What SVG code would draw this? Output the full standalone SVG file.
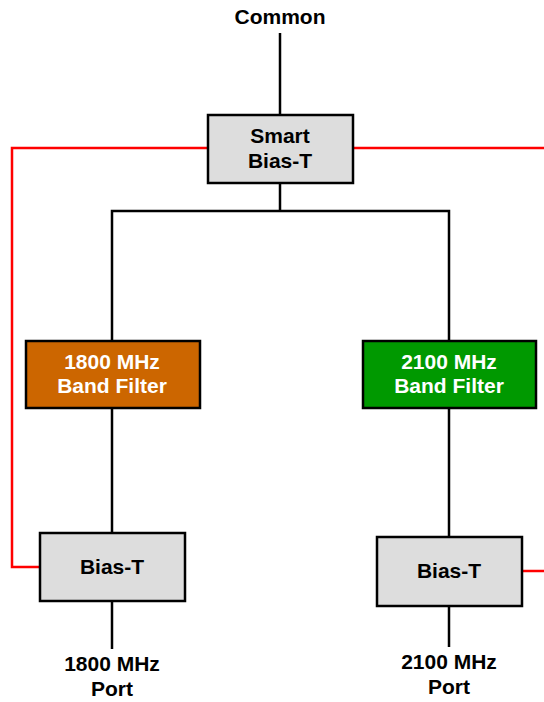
<svg xmlns="http://www.w3.org/2000/svg" width="544" height="702" viewBox="0 0 544 702">
<style>
text{font-family:"Liberation Sans",Arial,sans-serif;font-weight:bold;font-size:21px;text-anchor:middle}
.box{stroke:#000;stroke-width:2.5}
.grey{fill:#DDDDDD}
.dark{fill:#000}
.white{fill:#fff}
.w{stroke:#000;stroke-width:2.5;fill:none}
.r{stroke:#FF0000;stroke-width:2.5;fill:none}
</style>
<rect width="544" height="702" fill="#fff"/>
<g id="connectors">
<line class="w" x1="280" y1="33" x2="280" y2="115"/>
<line class="w" x1="280" y1="183" x2="280" y2="211"/>
<polyline class="w" points="112,341 112,211 449,211 449,341"/>
<line class="w" x1="112" y1="408" x2="112" y2="533"/>
<line class="w" x1="449" y1="408" x2="449" y2="537"/>
<line class="w" x1="112" y1="601" x2="112" y2="649"/>
<line class="w" x1="449" y1="606" x2="449" y2="647"/>
<polyline class="r" points="208,148 12,148 12,567 40,567"/>
<line class="r" x1="353" y1="148" x2="544" y2="148"/>
<line class="r" x1="522" y1="571" x2="544" y2="571"/>
</g>
<g id="common"><text x="280" y="24" class="dark">Common</text></g>
<g id="smart-bias-t">
<rect class="box grey" x="208" y="115" width="145" height="68"/>
<text x="280" y="143" class="dark">Smart</text>
<text x="280" y="168" class="dark">Bias-T</text>
</g>
<g id="filter-1800">
<rect class="box" fill="#CC6600" x="26" y="341" width="174" height="67"/>
<text x="112" y="369" class="white">1800 MHz</text>
<text x="112" y="393" class="white">Band Filter</text>
</g>
<g id="filter-2100">
<rect class="box" fill="#009900" x="363" y="341" width="173" height="67"/>
<text x="449" y="369" class="white">2100 MHz</text>
<text x="449" y="393" class="white">Band Filter</text>
</g>
<g id="bias-t-1800">
<rect class="box grey" x="40" y="533" width="145" height="68"/>
<text x="112" y="574" class="dark">Bias-T</text>
</g>
<g id="bias-t-2100">
<rect class="box grey" x="377" y="537" width="145" height="69"/>
<text x="449" y="578" class="dark">Bias-T</text>
</g>
<g id="port-1800">
<text x="112" y="671" class="dark">1800 MHz</text>
<text x="112" y="696" class="dark">Port</text>
</g>
<g id="port-2100">
<text x="449" y="669" class="dark">2100 MHz</text>
<text x="449" y="694" class="dark">Port</text>
</g>
</svg>
